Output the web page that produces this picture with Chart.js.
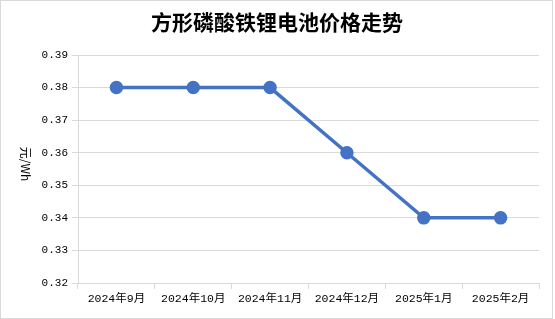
<!DOCTYPE html>
<html>
<head>
<meta charset="utf-8">
<script src="https://cdn.jsdelivr.net/npm/chart.js@4"></script>
<style>
  html, body { margin: 0; padding: 0; background: #fff; }
  #wrap { width: 555px; height: 319px; position: relative; }
</style>
</head>
<body>
<div id="wrap"><canvas id="myChart"></canvas></div>
<script>
const months = ['2024年9月', '2024年10月', '2024年11月', '2024年12月', '2025年1月', '2025年2月'];
const prices = [0.38, 0.38, 0.38, 0.36, 0.34, 0.34];
const chartTitle = '方形磷酸铁锂电池价格走势';
const yTitle = '元/Wh';

const cjk = '"Liberation Mono", "Noto Sans CJK SC", monospace';

// border, title and clockwise y-axis title
const decor = {
  id: 'decor',
  beforeDraw(chart) {
    const c = chart.ctx;
    c.save();
    c.fillStyle = '#fff';
    c.fillRect(0, 0, chart.width, chart.height);
    c.strokeStyle = '#d9d9d9';
    c.lineWidth = 1;
    c.strokeRect(0.5, 0.5, 552, 318);
    c.restore();
  },
  afterDraw(chart) {
    const c = chart.ctx;
    c.save();
    c.fillStyle = '#000';
    c.textAlign = 'center';
    c.textBaseline = 'middle';
    c.font = 'bold 21px "Noto Sans CJK SC"';
    c.fillText(chartTitle, 277, 22);
    c.translate(26, 164);
    c.rotate(Math.PI / 2);
    c.font = '12px "Noto Sans CJK SC"';
    c.fillText(yTitle, 0, 0);
    c.restore();
  }
};

const ctx = document.getElementById('myChart').getContext('2d');

const myChart = new Chart(ctx, {
    type: 'line',
    data: {
        labels: months,
        datasets: [{
            data: prices,
            borderColor: '#4472C4',
            backgroundColor: '#4472C4',
            borderWidth: 3.5,
            pointRadius: 5,
            pointHoverRadius: 5,
            tension: 0
        }]
    },
    options: {
      responsive: true,
      maintainAspectRatio: false,
      animation: false,
      layout: {
        padding: { top: 55, right: 16, left: 0, bottom: 0 }
      },
      plugins: {
        legend: { display: false },
        title: { display: false },
        tooltip: { enabled: false }
      },
        scales: {
            x: {
                offset: true,
                afterFit(scale) { scale.height = 36; },
                grid: {
                    offset: true,
                    drawOnChartArea: false,
                    tickLength: 6,
                    color: '#d9d9d9'
                },
                border: { color: '#d9d9d9' },
                ticks: {
                    padding: 3,
                    maxRotation: 0,
                    color: '#000',
                    font: { family: cjk, size: 11.5 }
                }
            },
            y: {
                min: 0.32,
                max: 0.39,
                afterFit(scale) { scale.width = 78; },
                grid: {
                    color: '#d9d9d9',
                    tickLength: 6
                },
                border: { color: '#d9d9d9' },
                ticks: {
                    stepSize: 0.01,
                    padding: 4,
                    color: '#000',
                    font: { family: cjk, size: 11 },
                    callback: v => v.toFixed(2)
                }
            }
        }
    },
    plugins: [decor]
});
</script>
</body>
</html>
